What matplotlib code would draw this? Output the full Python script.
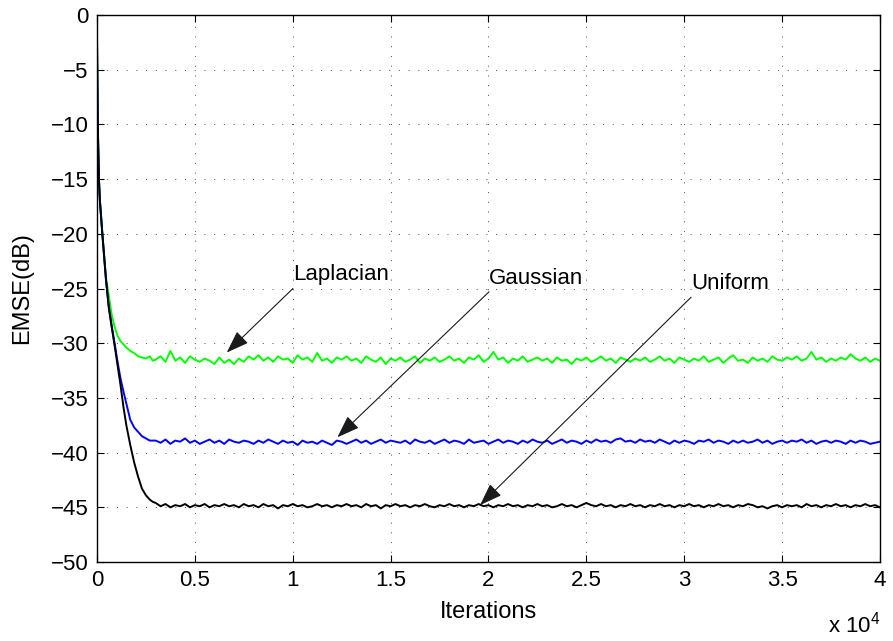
import numpy as np
import matplotlib
matplotlib.use('Agg')
from matplotlib import pyplot as plt

plt.rcParams['font.family'] = ['Liberation Sans', 'DejaVu Sans']
plt.rcParams['mathtext.fontset'] = 'custom'
plt.rcParams['mathtext.rm'] = 'Liberation Sans'

## sample iterations: dense during the transient, every 250 afterwards
early_iters = [0, 40, 100, 150, 270, 460, 600, 750, 900, 1050,
               1200, 1350, 1500, 1700, 1900, 2100, 2300, 2500, 2700, 2850]
steady_iters = list(range(3000, 40001, 250))
iters = early_iters + steady_iters

## EMSE (dB)
lap_early = [-2, -10, -15, -17, -19.9, -24.0, -25.6, -27.4, -28.5, -29.3,
             -29.8, -30.1, -30.4, -30.7, -30.9, -31.2, -31.3, -31.4, -31.2, -31.6]
lap_steady = [
    -31.5, -31.2, -31.7, -30.7, -31.6, -31.3, -31.8, -31.2, -31.5, -31.7,
    -31.4, -31.6, -31.9, -31.3, -31.8, -31.5, -31.9, -31.4, -31.7, -31.2,
    -31.5, -31.1, -31.6, -31.3, -31.7, -31.2, -31.5, -31.4, -31.8, -31.1,
    -31.5, -31.3, -31.7, -30.9, -31.6, -31.4, -31.8, -31.3, -31.5, -31.2,
    -31.6, -31.4, -31.8, -31.2, -31.5, -31.7, -31.3, -31.9, -31.4, -31.6,
    -31.3, -31.7, -31.5, -31.2, -31.8, -31.4, -31.6, -31.3, -31.7, -31.5,
    -31.2, -31.6, -31.4, -31.8, -31.3, -31.5, -31.1, -31.7, -31.4, -30.8,
    -31.5, -31.3, -31.8, -31.4, -31.6, -31.2, -31.7, -31.5, -31.3, -31.6,
    -31.4, -31.8, -31.3, -31.6, -31.5, -31.9, -31.4, -31.6, -31.3, -31.7,
    -31.5, -31.2, -31.6, -31.4, -31.8, -31.3, -31.5, -31.7, -31.4, -31.6,
    -31.3, -31.7, -31.5, -31.2, -31.6, -31.4, -31.8, -31.3, -31.5, -31.7,
    -31.4, -31.6, -31.2, -31.7, -31.5, -31.3, -31.8, -31.4, -31.1, -31.6,
    -31.5, -31.8, -31.3, -31.6, -31.4, -31.7, -31.2, -31.5, -31.6, -31.3,
    -31.5, -31.2, -31.6, -31.4, -30.8, -31.5, -31.3, -31.7, -31.4, -31.6,
    -31.3, -31.5, -31.0, -31.4, -31.6, -31.3, -31.7, -31.4, -31.6]

gau_early = [-2, -10, -15, -17, -19.9, -24.2, -26.6, -28.4, -30.0, -31.7,
             -33.2, -34.4, -35.5, -37.0, -37.7, -38.1, -38.5, -38.7, -38.9, -38.9]
gau_steady = [
    -38.9, -39.1, -38.8, -39.2, -38.9, -39.0, -38.7, -39.1, -38.9, -39.2,
    -39.0, -38.8, -39.1, -38.9, -39.2, -38.8, -39.0, -39.1, -38.9, -39.0,
    -39.2, -38.9, -39.1, -38.8, -39.0, -39.2, -38.9, -39.1, -39.0, -39.3,
    -38.9, -39.1, -39.0, -39.2, -38.9, -39.1, -39.3, -38.9, -39.0, -39.2,
    -39.0, -38.8, -39.1, -38.9, -39.2, -39.0, -38.8, -39.1, -38.9, -39.0,
    -39.1, -38.9, -39.2, -38.8, -39.0, -39.1, -38.9, -39.2, -39.0, -38.8,
    -39.1, -38.9, -39.0, -39.2, -38.8, -39.1, -39.0, -38.9, -39.2, -39.0,
    -38.8, -39.1, -38.9, -39.0, -39.2, -38.9, -39.1, -38.8, -39.0, -39.1,
    -38.9, -39.2, -39.0, -38.8, -39.1, -38.9, -39.0, -39.2, -38.9, -39.1,
    -38.8, -39.0, -38.9, -39.1, -38.8, -38.7, -39.0, -38.9, -39.1, -38.8,
    -39.0, -38.9, -39.1, -38.8, -39.0, -39.2, -38.9, -39.1, -38.9, -39.0,
    -39.2, -38.9, -39.0, -38.8, -39.1, -38.9, -39.0, -39.2, -38.9, -39.1,
    -38.9, -39.1, -39.0, -38.8, -39.1, -38.9, -39.2, -39.0, -38.9, -39.1,
    -38.9, -39.0, -38.8, -39.1, -38.9, -39.2, -39.0, -38.9, -39.1, -38.9,
    -39.0, -39.2, -38.9, -39.1, -38.9, -39.0, -39.2, -39.1, -39.0]

uni_early = [-2, -10, -15, -17, -19.9, -24.2, -26.7, -28.5, -30.2, -32.0,
             -33.8, -35.8, -37.5, -39.3, -40.9, -42.2, -43.3, -43.9, -44.3, -44.5]
uni_steady = [
    -44.6, -44.9, -44.7, -45.0, -44.8, -44.9, -44.7, -45.0, -44.8, -44.9,
    -44.7, -45.0, -44.8, -44.9, -44.7, -44.9, -44.8, -45.0, -44.7, -44.9,
    -44.8, -45.0, -44.7, -44.9, -44.8, -45.1, -44.8, -44.9, -44.7, -44.9,
    -44.8, -45.0, -44.9, -44.7, -44.9, -44.8, -45.0, -44.8, -44.9, -44.7,
    -44.9, -44.8, -45.0, -44.7, -44.9, -44.8, -45.1, -44.8, -44.9, -44.7,
    -44.9, -44.8, -45.0, -44.8, -44.9, -44.7, -44.9, -45.0, -44.8, -44.9,
    -44.7, -44.9, -44.8, -45.0, -44.8, -44.9, -44.7, -44.9, -44.8, -45.0,
    -44.8, -44.9, -44.7, -44.9, -44.8, -45.0, -44.8, -44.9, -44.7, -44.9,
    -44.8, -45.0, -44.9, -44.7, -44.9, -44.8, -45.0, -44.8, -44.6, -44.8,
    -44.9, -44.7, -44.9, -44.8, -45.0, -44.8, -44.9, -44.7, -44.9, -44.8,
    -45.0, -44.8, -44.9, -44.7, -44.9, -44.8, -45.0, -44.8, -44.9, -44.7,
    -44.9, -44.8, -45.0, -44.8, -44.9, -44.7, -44.9, -44.8, -45.0, -44.8,
    -44.9, -44.7, -44.8, -45.0, -44.9, -45.1, -44.9, -44.8, -45.0, -44.8,
    -44.9, -44.8, -45.0, -44.7, -44.9, -44.8, -45.0, -44.8, -44.9, -44.7,
    -44.9, -44.8, -45.0, -44.8, -44.9, -44.7, -44.9, -44.8, -45.0]

laplacian = lap_early + lap_steady
gaussian = gau_early + gau_steady
uniform = uni_early + uni_steady

xtick_vals = [0, 5000, 10000, 15000, 20000, 25000, 30000, 35000, 40000]
xtick_labels = ['0', '0.5', '1', '1.5', '2', '2.5', '3', '3.5', '4']
ytick_vals = [0, -5, -10, -15, -20, -25, -30, -35, -40, -45, -50]

## (label, arrow tail, arrow tip)
notes = [
    ('Laplacian', (10010, -25.0), (6630, -30.85)),
    ('Gaussian', (20030, -25.3), (12280, -38.6)),
    ('Uniform', (30350, -25.8), (19570, -44.8)),
]

fig = plt.figure(figsize=(8.93, 6.41), dpi=100)
ax = fig.add_axes([0.1086, 0.1232, 0.8768, 0.8534])

ax.plot(iters, laplacian, color='#00ff00', lw=1.4)
ax.plot(iters, gaussian, color='#0000ff', lw=1.4)
ax.plot(iters, uniform, color='k', lw=1.4)

ax.set_xlim(0, 40000)
ax.set_ylim(-50, 0)
ax.set_xticks(xtick_vals)
ax.set_xticklabels(xtick_labels)
ax.set_yticks(ytick_vals)
ax.tick_params(direction='in', top=True, right=True, length=5, width=0.8,
               labelsize=16, pad=6)
for s in ax.spines.values():
    s.set_linewidth(1.0)
ax.grid(True, color='0.3', linestyle=(0, (1, 9)), lw=0.7)

ax.set_xlabel('Iterations', fontsize=17, labelpad=7)
ax.set_ylabel('EMSE(dB)', fontsize=17, labelpad=13)
ax.text(1.0, -0.128, r'x 10$^{4}$', transform=ax.transAxes, ha='right',
        va='baseline', fontsize=16)

for label, tail, tip in notes:
    ax.annotate('', xy=tip, xytext=tail,
                arrowprops=dict(arrowstyle='-|>,head_length=0.7,head_width=0.25',
                                color='0.1', lw=0.8, shrinkA=0, shrinkB=0,
                                mutation_scale=20))
    ax.text(tail[0], tail[1] + 0.3, label, ha='left', va='bottom', fontsize=16)

plt.savefig('out.png', dpi=100)
